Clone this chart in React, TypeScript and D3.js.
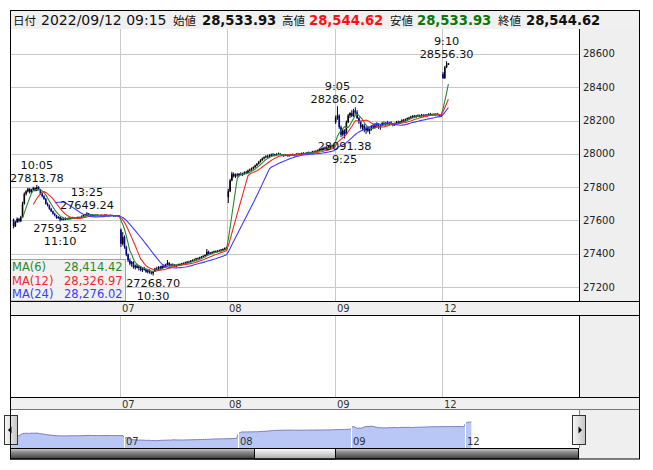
import React from "react";
import * as d3 from "d3";

type Bar = [number, number, number, number]; // open, high, low, close

const dayLabels = ["06", "07", "08", "09", "12"];

const day0906: Bar[] = [
  [27605,27612,27552,27565],[27565,27598,27560,27590],[27590,27618,27585,27610],[27610,27614,27588,27595],
  [27595,27628,27590,27620],[27620,27712,27618,27700],[27700,27768,27695,27760],[27760,27782,27750,27775],
  [27775,27796,27768,27790],[27790,27794,27762,27770],[27770,27790,27765,27785],[27785,27802,27778,27795],
  [27795,27800,27774,27780],[27780,27813.78,27776,27800],[27800,27806,27780,27785],[27785,27790,27755,27760],
  [27760,27766,27738,27745],[27745,27752,27724,27730],[27730,27735,27695,27700],[27700,27708,27684,27690],
  [27690,27695,27664,27670],[27670,27676,27650,27655],[27655,27660,27635,27640],[27640,27646,27624,27630],
  [27630,27634,27610,27615],[27615,27626,27610,27620],[27620,27624,27593.52,27605],[27605,27616,27600,27610],
  [27610,27614,27600,27605],[27605,27618,27602,27612],[27612,27616,27604,27608],[27608,27620,27605,27615],
  [27615,27618,27606,27610],[27610,27622,27608,27618],[27618,27620,27608,27612],[27612,27620,27610,27616],
  [27616,27624,27613,27620],[27620,27623,27614,27618],[27618,27630,27616,27625],[27625,27636,27622,27632],
  [27632,27640,27630,27636],[27636,27649.24,27633,27642],[27642,27644,27632,27635],[27635,27638,27627,27630],
  [27630,27636,27628,27633],[27633,27635,27625,27628],[27628,27637,27626,27634],[27634,27636,27628,27630],
  [27630,27632,27623,27626],[27626,27635,27624,27632],[27632,27634,27626,27628],[27628,27637,27627,27634],
  [27634,27636,27628,27630],[27630,27633,27625,27627],[27627,27635,27625,27632],[27632,27634,27627,27629],
  [27629,27631,27623,27625],[27625,27633,27624,27630],[27630,27632,27625,27627],[27627,27630,27620,27624],
];

const day0907: Bar[] = [
  [27545,27552,27440,27460],[27460,27530,27450,27500],[27500,27510,27430,27440],[27440,27448,27385,27395],
  [27395,27402,27350,27360],[27360,27372,27330,27340],[27340,27356,27322,27350],[27350,27355,27310,27318],
  [27318,27335,27305,27328],[27328,27340,27312,27315],[27315,27330,27300,27322],[27322,27326,27295,27302],
  [27302,27318,27290,27310],[27310,27322,27298,27305],[27305,27312,27285,27292],[27292,27308,27282,27300],
  [27300,27306,27280,27288],[27288,27295,27275,27282],[27282,27298,27268.70,27295],[27295,27315,27290,27310],
  [27310,27322,27300,27305],[27305,27325,27302,27320],[27320,27328,27306,27312],[27312,27330,27308,27326],
  [27326,27335,27315,27318],[27318,27340,27316,27335],[27335,27362,27330,27345],[27345,27350,27322,27328],
  [27328,27340,27320,27336],[27336,27342,27325,27330],[27330,27338,27318,27325],[27325,27336,27320,27332],
  [27332,27340,27326,27335],[27335,27342,27328,27338],[27338,27345,27330,27342],[27342,27348,27334,27340],
  [27340,27352,27336,27348],[27348,27356,27342,27352],[27352,27358,27345,27350],[27350,27362,27346,27358],
  [27358,27366,27352,27362],[27362,27370,27355,27365],[27365,27375,27360,27372],[27372,27378,27365,27370],
  [27370,27382,27366,27378],[27378,27386,27372,27383],[27383,27390,27376,27388],[27388,27396,27382,27392],
  [27392,27428,27388,27412],[27412,27418,27395,27400],[27400,27410,27394,27405],[27405,27414,27398,27410],
  [27410,27418,27402,27415],[27415,27420,27405,27412],[27412,27422,27408,27418],[27418,27425,27410,27420],
  [27420,27428,27414,27425],[27425,27432,27418,27428],[27428,27438,27422,27434],[27434,27442,27428,27438],
];

const day0908: Bar[] = [
  [27740,27790,27705,27775],[27775,27850,27770,27840],[27840,27892,27835,27880],[27880,27888,27858,27865],
  [27865,27882,27855,27876],[27876,27885,27862,27870],[27870,27884,27864,27880],[27880,27890,27870,27875],
  [27875,27886,27866,27882],[27882,27895,27876,27890],[27890,27898,27880,27885],[27885,27905,27882,27900],
  [27900,27912,27894,27905],[27905,27918,27898,27912],[27912,27925,27905,27920],[27920,27935,27914,27930],
  [27930,27945,27925,27940],[27940,27958,27936,27952],[27952,27968,27948,27962],[27962,27978,27958,27972],
  [27972,27985,27966,27980],[27980,27992,27974,27985],[27985,27995,27976,27982],[27982,27998,27978,27990],
  [27990,28002,27984,27995],[27995,28005,27988,27992],[27992,28000,27985,27996],[27996,28004,27990,27998],
  [27998,28008,27992,28000],[28000,28006,27990,27995],[27995,28000,27985,27990],[27990,27998,27982,27994],
  [27994,28000,27986,27992],[27992,27997,27984,27988],[27988,27996,27982,27993],[27993,28000,27988,27996],
  [27996,28002,27988,27991],[27991,27998,27985,27995],[27995,28004,27990,28000],[28000,28006,27992,27997],
  [27997,28004,27992,28001],[28001,28008,27995,28004],[28004,28010,27998,28002],[28002,28008,27996,28005],
  [28005,28012,28000,28008],[28008,28014,28002,28006],[28006,28012,28000,28010],[28010,28018,28005,28014],
  [28014,28020,28008,28012],[28012,28022,28008,28018],[28018,28026,28012,28022],[28022,28030,28016,28025],
  [28025,28034,28020,28030],[28030,28040,28024,28036],[28036,28044,28028,28032],[28032,28042,28026,28038],
  [28038,28048,28032,28044],[28044,28052,28038,28046],[28046,28055,28040,28050],[28050,28058,28042,28052],
];

const day0909: Bar[] = [
  [28190,28230,28180,28215],[28215,28286.02,28205,28230],[28230,28238,28150,28160],[28160,28170,28100,28115],
  [28115,28150,28105,28140],[28140,28148,28091.38,28120],[28120,28200,28115,28190],[28190,28240,28185,28230],
  [28230,28250,28215,28245],[28245,28262,28220,28228],[28228,28270,28222,28260],[28260,28280,28240,28250],
  [28250,28262,28210,28215],[28215,28222,28180,28190],[28190,28200,28150,28160],[28160,28178,28140,28170],
  [28170,28180,28130,28142],[28142,28165,28120,28155],[28155,28168,28130,28138],[28138,28160,28118,28150],
  [28150,28172,28140,28165],[28165,28180,28150,28158],[28158,28185,28152,28178],[28178,28190,28160,28168],
  [28168,28182,28150,28160],[28160,28175,28145,28170],[28170,28192,28165,28185],[28185,28195,28170,28178],
  [28178,28192,28168,28186],[28186,28198,28176,28180],[28180,28192,28172,28188],[28188,28196,28175,28180],
  [28180,28186,28165,28172],[28172,28188,28168,28184],[28184,28198,28178,28192],[28192,28200,28180,28186],
  [28186,28198,28182,28195],[28195,28208,28188,28202],[28202,28210,28192,28198],[28198,28212,28194,28208],
  [28208,28218,28200,28214],[28214,28222,28206,28218],[28218,28228,28212,28224],[28224,28232,28216,28228],
  [28228,28234,28218,28222],[28222,28232,28216,28230],[28230,28238,28222,28226],[28226,28236,28220,28232],
  [28232,28240,28225,28228],[28228,28238,28222,28234],[28234,28240,28226,28230],[28230,28238,28224,28236],
  [28236,28244,28230,28240],[28240,28246,28230,28234],[28234,28242,28228,28238],[28238,28245,28230,28236],
  [28236,28244,28228,28240],[28240,28246,28232,28234],[28234,28240,28226,28232],[28232,28238,28222,28225],
];

const day0912: Bar[] = [
  [28480,28492,28450,28455],[28455,28528,28450,28520],[28520,28556.30,28515,28533.93],[28533.93,28544.62,28533.93,28544.62],
];

const days: Bar[][] = [day0906, day0907, day0908, day0909, day0912];
const barsPerDay = 60;

const maPeriods = [6, 12, 24];
const maNames = ["MA(6)", "MA(12)", "MA(24)"];
const maLastValues = ["28,414.42", "28,326.97", "28,276.02"];
const maColors = ["#2a8a2a", "#f02828", "#3c3cff"];

const yTicks = [27200, 27400, 27600, 27800, 28000, 28200, 28400, 28600];

// [dayIndex, barIndex, value, time, kind]
const annotations: [number, number, number, string, string][] = [
  [0, 13, 27813.78, "10:05", "high"],
  [0, 26, 27593.52, "11:10", "low"],
  [0, 41, 27649.24, "13:25", "high"],
  [1, 18, 27268.70, "10:30", "low"],
  [3, 1, 28286.02, "9:05", "high"],
  [3, 5, 28091.38, "9:25", "low"],
  [4, 2, 28556.30, "9:10", "high"],
];

const headerDate = "2022/09/12 09:15";
const headerNames = ["始値", "高値", "安値", "終値"];
const headerValues = ["28,533.93", "28,544.62", "28,533.93", "28,544.62"];
const headerColors = ["#111", "#ff1010", "#087808", "#111"];

const FONT = "'DejaVu Sans', 'Noto Sans CJK JP', sans-serif";
const CJK = "'Noto Sans CJK JP', sans-serif";

export default function App() {
  const bars = days.flatMap((d, di) =>
    d.map((b, i) => ({ s: di * barsPerDay + i, o: b[0], h: b[1], l: b[2], c: b[3] }))
  );
  const closes = bars.map((b) => b.c);

  const L = 10, R = 579, OUT_R = 640;
  const TOP = 29, BOT = 301;
  const x = d3.scaleLinear().domain([-1.5, 316.5]).range([L, R]);
  const y = d3.scaleLinear().domain([27116, 28750]).range([BOT, TOP]);
  const cx = (s: number) => x(s + 0.5);

  const dayStarts = [1, 2, 3, 4].map((k) => k * barsPerDay);

  const maSeries = maPeriods.map((p) =>
    closes.map((_, i) => (i >= p - 1 ? d3.mean(closes.slice(i - p + 1, i + 1)) as number : null))
  );
  const maLine = d3
    .line<number | null>()
    .defined((d) => d !== null)
    .x((_, i) => cx(bars[i].s))
    .y((d) => y(d as number));

  // navigator
  const NT = 410, NB = 448;
  const nx = d3.scaleLinear().domain([0, 300.4]).range([10.4, 579]);
  const ny = d3.scaleLinear().domain([26790, 29355]).range([NB, NT]);
  const navArea = d3
    .area<typeof bars[0]>()
    .x((d) => nx(d.s + 0.5))
    .y0(NB)
    .y1((d) => ny(d.c));
  const navLine = d3
    .line<typeof bars[0]>()
    .x((d) => nx(d.s + 0.5))
    .y((d) => ny(d.c));

  const headerX = { kanji: [173, 282, 390, 498], vals: [202, 309, 417, 526] };

  return (
    <svg
      width={653}
      height={470}
      style={{ position: "absolute", left: 0, top: 0, background: "#fff" }}
      fontFamily={FONT}
    >
      <defs>
        <clipPath id="plotClip">
          <rect x={L} y={TOP} width={R - L} height={BOT - TOP} />
        </clipPath>
        <linearGradient id="trackGrad" x1="0" y1="0" x2="0" y2="1">
          <stop offset="0%" stopColor="#d0d0d0" />
          <stop offset="35%" stopColor="#8c8c8c" />
          <stop offset="100%" stopColor="#3a3a3a" />
        </linearGradient>
        <linearGradient id="thumbGrad" x1="0" y1="0" x2="0" y2="1">
          <stop offset="0%" stopColor="#ffffff" />
          <stop offset="100%" stopColor="#a8a8a8" />
        </linearGradient>
        <linearGradient id="btnGrad" x1="0" y1="0" x2="1" y2="0">
          <stop offset="0%" stopColor="#fafafa" />
          <stop offset="100%" stopColor="#c4c4c4" />
        </linearGradient>
      </defs>

      {/* header */}
      <rect x={L + 0.5} y={10.5} width={OUT_R - L - 1} height={19} fill="#f0f0f0" stroke="#000" />
      <text x={13} y={25} fontSize={11.5} fontFamily={CJK} fill="#111">日付</text>
      <text x={41} y={25} fontSize={14} fill="#111">{headerDate}</text>
      {headerNames.map((n, i) => (
        <text key={"hn" + i} x={headerX.kanji[i]} y={25} fontSize={11.5} fontFamily={CJK} fill="#111">{n}</text>
      ))}
      {headerValues.map((v, i) => (
        <text key={"hv" + i} x={headerX.vals[i]} y={25} fontSize={13.2} fontWeight="bold" fill={headerColors[i]}>{v}</text>
      ))}

      {/* main plot background */}
      <rect x={L} y={TOP} width={R - L} height={BOT - TOP} fill="#fff" />
      <rect x={R} y={TOP} width={OUT_R - R} height={BOT - TOP} fill="#efefef" />
      {yTicks.map((t) => (
        <line key={"gy" + t} x1={L} x2={R} y1={Math.round(y(t)) + 0.5} y2={Math.round(y(t)) + 0.5} stroke="#c8c8c8" />
      ))}
      {dayStarts.map((s) => (
        <line key={"gx" + s} x1={Math.round(x(s)) + 0.5} x2={Math.round(x(s)) + 0.5} y1={TOP} y2={BOT} stroke="#c8c8c8" />
      ))}
      {yTicks.map((t) => (
        <text key={"ty" + t} x={583} y={y(t)} dy="0.35em" fontSize={10} fill="#222">{t}</text>
      ))}

      {/* candles */}
      <g clipPath="url(#plotClip)">
        {bars.map((b) => {
          const col = b.c >= b.o ? "#000" : "#000090";
          const top = y(Math.max(b.o, b.c));
          const bot = y(Math.min(b.o, b.c));
          return (
            <g key={"c" + b.s}>
              <line x1={cx(b.s)} x2={cx(b.s)} y1={y(b.h)} y2={y(b.l)} stroke={col} strokeWidth={1} />
              <rect x={cx(b.s) - 0.8} y={top} width={1.6} height={Math.max(1, bot - top)} fill={col} />
            </g>
          );
        })}
        {maSeries.map((m, i) => (
          <path key={"ma" + i} d={maLine(m) || ""} fill="none" stroke={maColors[i]} strokeWidth={1.1} />
        ))}
      </g>

      {/* legend */}
      <rect x={L + 0.5} y={259.5} width={115} height={BOT - 259.5} fill="#f0f0f0" fillOpacity={0.92} stroke="#a0a0a0" />
      {maNames.map((n, i) => (
        <g key={"lg" + i}>
          <text x={12} y={267 + i * 13.7} dy="0.35em" fontSize={11.5} fill={maColors[i]}>{n}</text>
          <text x={64} y={267 + i * 13.7} dy="0.35em" fontSize={11.5} fill={maColors[i]}>{maLastValues[i]}</text>
        </g>
      ))}

      {/* annotations */}
      {annotations.map(([d, bi, v, t, kind], i) => {
        const px = cx(d * barsPerDay + bi);
        const py = y(v);
        const sgn = kind === "high" ? -1 : 1;
        return (
          <g key={"an" + i} fontSize={11.3} fill="#111" textAnchor="middle">
            <text x={px} y={py + sgn * 7} dy="0.35em">{v.toFixed(2)}</text>
            <text x={px} y={py + sgn * 20} dy="0.35em">{t}</text>
          </g>
        );
      })}

      {/* main frame */}
      <line x1={R + 0.5} x2={R + 0.5} y1={TOP} y2={BOT} stroke="#000" />

      {/* x axis strip 1 */}
      <rect x={L + 0.5} y={BOT + 0.5} width={OUT_R - L - 1} height={14} fill="#f0f0f0" stroke="#000" />
      {dayStarts.map((s, i) => (
        <text key={"xl1" + s} x={Math.round(x(s)) + 2} y={312} fontSize={10} fill="#333">{dayLabels[i + 1]}</text>
      ))}

      {/* panel 2 */}
      <rect x={L} y={316} width={R - L} height={81} fill="#fff" />
      <rect x={R} y={316} width={OUT_R - R} height={81} fill="#efefef" />
      {dayStarts.map((s) => (
        <line key={"gx2" + s} x1={Math.round(x(s)) + 0.5} x2={Math.round(x(s)) + 0.5} y1={316} y2={397} stroke="#c8c8c8" />
      ))}
      <line x1={R + 0.5} x2={R + 0.5} y1={316} y2={397} stroke="#000" />

      {/* x axis strip 2 */}
      <rect x={L + 0.5} y={397.5} width={OUT_R - L - 1} height={12.5} fill="#f0f0f0" stroke="#000" />
      {dayStarts.map((s, i) => (
        <text key={"xl2" + s} x={Math.round(x(s)) + 2} y={408} fontSize={10} fill="#333">{dayLabels[i + 1]}</text>
      ))}

      {/* navigator */}
      <rect x={L} y={NT} width={R - L} height={NB - NT} fill="#fff" />
      <rect x={R} y={NT} width={OUT_R - R} height={459 - NT} fill="#efefef" />
      <path d={navArea(bars) || ""} fill="#b9c7f6" />
      <path d={navLine(bars) || ""} fill="none" stroke="#7c7cc4" strokeWidth={1} />
      {dayStarts.map((s, i) => (
        <g key={"nv" + s}>
          <line x1={Math.round(nx(s)) + 0.5} x2={Math.round(nx(s)) + 0.5} y1={NT} y2={NB} stroke="#fff" />
          <text x={Math.round(nx(s)) + 2} y={445} fontSize={10} fill="#333">{dayLabels[i + 1]}</text>
        </g>
      ))}
      <line x1={L + 0.5} x2={L + 0.5} y1={NT} y2={NB} stroke="#22b0e0" />
      <line x1={R + 0.5} x2={R + 0.5} y1={NT} y2={NB} stroke="#22b0e0" />

      {/* buttons */}
      <rect x={4.5} y={415.5} width={13} height={29} fill="url(#btnGrad)" stroke="#333" />
      <path d="M8,430 L11.5,426.5 L11.5,433.5 Z" fill="#000" />
      <rect x={572.5} y={415.5} width={13} height={29} fill="url(#btnGrad)" stroke="#333" />
      <path d="M582,430 L578.5,426.5 L578.5,433.5 Z" fill="#000" />

      {/* scrollbar */}
      <rect x={L + 0.5} y={NB + 0.5} width={R - L - 1} height={10.5} fill="url(#trackGrad)" stroke="#000" />
      <rect x={254.5} y={NB + 0.5} width={81} height={10.5} fill="url(#thumbGrad)" stroke="#000" />

      {/* outer frame */}
      <rect x={L + 0.5} y={10.5} width={OUT_R - L - 1} height={459 - 10.5} fill="none" stroke="#000" />
    </svg>
  );
}
